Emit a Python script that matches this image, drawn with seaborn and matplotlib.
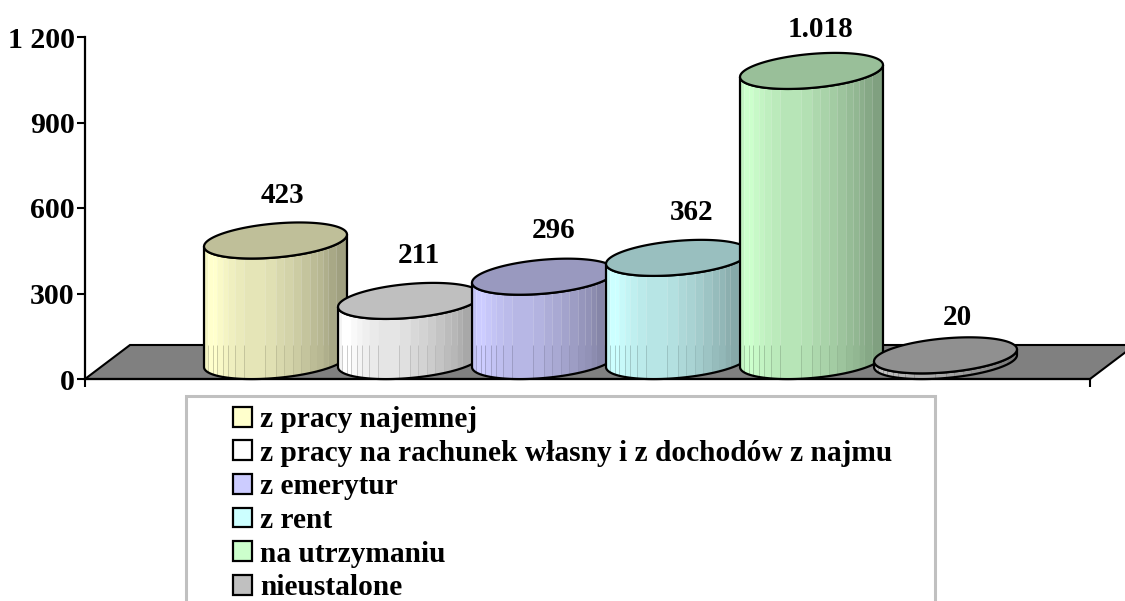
import numpy as np
import pandas as pd
import seaborn as sns
import matplotlib.pyplot as plt
from matplotlib.patches import Patch, Polygon, Rectangle
from matplotlib.collections import LineCollection

# wartosci
kategorie = ['z pracy najemnej', 'z pracy na rachunek własny i z dochodów z najmu',
             'z emerytur', 'z rent', 'na utrzymaniu', 'nieustalone']
wartosci = [423, 211, 296, 362, 1018, 20]
etykiety = ['423', '211', '296', '362', '1.018', '20']
kolory = ['#FFFFCC', '#FFFFFF', '#CCCCFF', '#CCFFFF', '#CCFFCC', '#C0C0C0']
yticks = [0, 300, 600, 900, 1200]
yticklabels = ['0', '300', '600', '900', '1 200']

sns.set_theme(style='white')
plt.rcParams['font.family'] = ['Liberation Serif', 'DejaVu Serif']
plt.rcParams['font.weight'] = 'bold'

W, H = 1125, 601
fig = plt.figure(figsize=(W / 100, H / 100), dpi=100)
ax = fig.add_axes([85 / W, 1 - 379 / H, (1090 - 85) / W, 342 / H])

dane = pd.DataFrame({'kat': kategorie, 'wart': wartosci})
sns.barplot(data=dane, x='kat', y='wart', hue='kat', order=kategorie, hue_order=kategorie,
            palette=kolory, dodge=False, width=1.067, legend=False, linewidth=0, ax=ax)

# skala: piksele -> dane
PX_X = 134.0
PX_Y = 342 / 1200
x_px = lambda p: (p - 275.5) / PX_X
xlim = (x_px(85), x_px(1090))
PODSTAWA = 63          # srodek dolnej elipsy nad osia (perspektywa)
PODLOGA = 34 / PX_Y    # tylna krawedz podlogi
POCHYL = 6 / PX_Y      # prawa strona elipsy wyzej
POLOS = 17 / PX_Y

ax.add_patch(Polygon([(xlim[0], 0), (x_px(130), PODLOGA), (x_px(1135), PODLOGA), (xlim[1], 0)],
                     closed=True, fc='#808080', ec='black', lw=1.5, clip_on=False, zorder=1))

# pasy cieniowania walca, ulamki szerokosci
pasy = np.array([0, .03, .06, .09, .13, .17, .22, .28, .43, .50, .56, .62, .68, .74, .79, .83, .87, .92, 1])
cien = np.array([.96, 1, 1, .98, .96, .94, .92, .90, .88, .85, .83, .80, .77, .74, .72, .69, .66, .63])


def elipsa(cx, cy, a, t):
    return np.column_stack([cx + a * np.cos(t), cy + POCHYL * np.cos(t) + POLOS * np.sin(t)])


paski = [p for c in ax.containers for p in c]
for i, (bar, kolor) in enumerate(zip(paski, kolory)):
    z = 3 + i
    x0, szer = bar.get_x(), bar.get_width()
    cx, a = x0 + szer / 2, szer / 2
    wart = bar.get_height()
    dol, gora = PODSTAWA, PODSTAWA + wart
    bar.set_y(dol)
    bar.set_zorder(z)

    t_przod = np.linspace(np.pi, 2 * np.pi, 80)
    obrys = np.vstack([elipsa(cx, dol, a, t_przod), elipsa(cx, gora, a, t_przod)[::-1]])
    bryla = Polygon(obrys, closed=True, fc='none', ec='black', lw=1.6, zorder=z + .3, clip_on=False)
    ax.add_patch(bryla)
    bar.set_clip_path(bryla)

    rgb = np.array(plt.matplotlib.colors.to_rgb(kolor))
    krawedzie = x0 + pasy * szer
    for k in range(len(cien)):
        pas = ax.imshow((rgb * cien[k]).reshape(1, 1, 3), extent=(krawedzie[k], krawedzie[k + 1] + .002, -100, 1300),
                        aspect='auto', zorder=z + .1, interpolation='nearest')
        pas.set_clip_path(bryla)

    # cienkie linie na walcu, ciemniejsze przy podlodze
    srodki = krawedzie[1:-1]
    jasne = LineCollection([[(s, -100), (s, PODLOGA)] for s in srodki], colors=[rgb * .72], lw=.5, zorder=z + .2)
    ax.add_collection(jasne)
    jasne.set_clip_path(bryla)
    gorne = LineCollection([[(s, PODLOGA), (s, 1300)] for s in srodki], colors='white', alpha=.2, lw=.6, zorder=z + .2)
    ax.add_collection(gorne)
    gorne.set_clip_path(bryla)

    wierzch = elipsa(cx, gora, a, np.linspace(0, 2 * np.pi, 160))
    ax.add_patch(Polygon(wierzch, closed=True, fc=rgb * .75, ec='black', lw=1.6, zorder=z + .4, clip_on=False))

# etykiety wartosci
przesuniecia = [(7, 45), (9.5, 45), (10, 46), (14, 45), (8.5, 41), (12, 38)]
for bar, tekst, (dx, dy), w in zip(paski, etykiety, przesuniecia, wartosci):
    ax.annotate(tekst, (bar.get_x() + bar.get_width() / 2, PODSTAWA + w), xytext=(dx * .72, dy * .72),
                textcoords='offset points', ha='center', va='center', fontsize=21,
                fontweight='bold', color='black', zorder=20, annotation_clip=False)

ax.set_xlim(xlim)
ax.set_ylim(0, 1200)
ax.set_xlabel('')
ax.set_ylabel('')
ax.set_xticks([xlim[0], xlim[1]], labels=['', ''])
ax.set_yticks(yticks, labels=yticklabels)
ax.tick_params(axis='both', length=5.5, width=1.5, color='black', left=True, bottom=True, pad=2)
ax.tick_params(axis='y', labelsize=21.5, labelcolor='black')
for s in ['top', 'right']:
    ax.spines[s].set_visible(False)
for s in ['left', 'bottom']:
    ax.spines[s].set_color('black')
    ax.spines[s].set_linewidth(1.6)
    ax.spines[s].set_zorder(2)

# legenda w ramce ucietej przez dol obrazka
fig.add_artist(Rectangle((186 / W, -0.05), (935 - 186) / W, 1 - 396 / H + .05, transform=fig.transFigure,
                         fc='white', ec='#C0C0C0', lw=2.2, zorder=-1))
uchwyty = [Patch(fc=k, ec='black', lw=1.6) for k in kolory]
fig.legend(uchwyty, kategorie, loc='upper left', bbox_to_anchor=(233 / W, 1 - 406 / H), frameon=False,
           borderpad=0, borderaxespad=0, labelspacing=.225, handlelength=.66, handleheight=.66,
           handletextpad=.25, labelcolor='black', prop={'family': 'Liberation Serif', 'weight': 'bold', 'size': 21.2})

fig.savefig('out.png', dpi=100)
